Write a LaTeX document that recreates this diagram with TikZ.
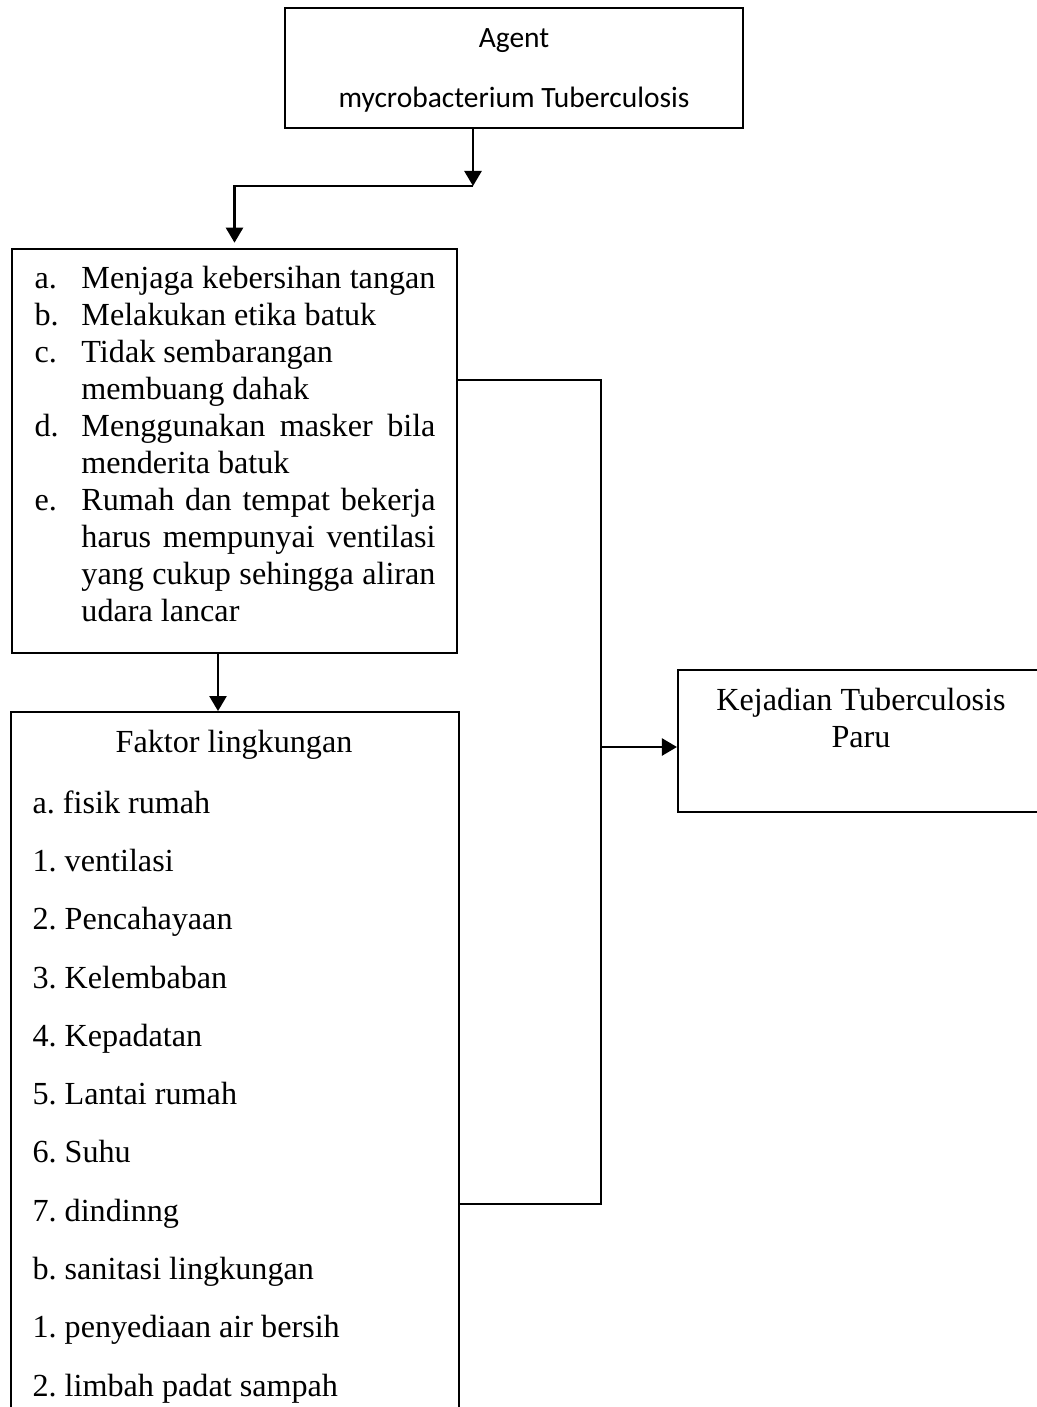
\documentclass[tikz,border=0pt]{standalone}
\usepackage{fontspec}
\setmainfont{Liberation Serif}
\newfontfamily\calibri{Carlito}
\usepackage{tikz}
\usetikzlibrary{arrows.meta, positioning, calc}
\newcommand{\lbl}[1]{\makebox[17.5pt][l]{#1}}
\newcommand{\jst}[1]{\makebox[132.1pt][s]{#1}}
\tikzset{
  box/.style={rectangle, draw=black, line width=0.75pt, inner sep=0pt},
  txt/.style={inner sep=0pt, font=\fontsize{12}{13.8}\selectfont\frenchspacing},
  arrow/.style={-{Triangle[length=5.6pt,width=6.4pt]}, line width=0.75pt},
  line/.style={line width=0.75pt}
}
\begin{document}
\begin{tikzpicture}[x=0.3731pt, y=-0.3731pt]
  \useasboundingbox (0,0) rectangle (1036,1407);

  % Boxes
  \node[box, minimum width=170.9pt, minimum height=44.8pt] (agent) at (514,68) {};
  \node[box, minimum width=166.0pt, minimum height=150.7pt] (pencegahan) at (234.5,451) {};
  \node[box, minimum width=167.2pt, minimum height=275.3pt] (lingkungan) at (235,1081) {};
  \node[box, minimum width=136.6pt, minimum height=53.0pt] (kejadian) at (861,741) {};

  % Texts
  \node[inner sep=0pt, anchor=base, align=center,
    font=\calibri\fontsize{11}{22.4}\selectfont] (agenttxt) at (514,47) {Agent};
  \node[inner sep=0pt, anchor=base,
    font=\calibri\fontsize{11}{22.4}\selectfont] (agentnama) at (514,107) {mycrobacterium Tuberculosis};
  \node[txt, anchor=north west, align=left] (pencegahantxt) at (34,266)
    {\lbl{a.}\jst{Menjaga kebersihan tangan}\\
     \lbl{b.}Melakukan etika batuk\\
     \lbl{c.}Tidak sembarangan\\
     \lbl{}membuang dahak\\
     \lbl{d.}\jst{Menggunakan masker bila}\\
     \lbl{}menderita batuk\\
     \lbl{e.}\jst{Rumah dan tempat bekerja}\\
     \lbl{}\jst{harus mempunyai ventilasi}\\
     \lbl{}\jst{yang cukup sehingga aliran}\\
     \lbl{}udara lancar};
  \node[txt, anchor=base] (lingkungantitle) at (234,752) {Faktor lingkungan};
  \node[txt, anchor=north west, align=left, font=\fontsize{12}{21.75}\selectfont\frenchspacing] (lingkungantxt) at (32,790)
    {a. fisik rumah\\
     1. ventilasi\\
     2. Pencahayaan\\
     3. Kelembaban\\
     4. Kepadatan\\
     5. Lantai rumah\\
     6. Suhu\\
     7. dindinng\\
     b. sanitasi lingkungan\\
     1. penyediaan air bersih\\
     2. limbah padat sampah};
  \node[txt, anchor=north, align=center] (kejadiantxt) at (861,688)
    {Kejadian Tuberculosis\\Paru};

  % Connectors
  \coordinate (cabang) at (473,186);
  \coordinate (turun) at (218,680);
  \coordinate (jalurtop) at (601,380);
  \coordinate (jalurbot) at (601,1204);
  \coordinate (masuk) at (601,747);
  \draw[arrow] (agent.south -| cabang) -- (cabang);
  \draw[arrow, shorten >=2pt] (cabang) -| (pencegahan.north);
  \draw[arrow] (pencegahan.south -| turun) -- (lingkungan.north -| turun);
  \draw[line] (pencegahan.east |- jalurtop) -- (jalurtop) -- (jalurbot) -- (lingkungan.east |- jalurbot);
  \draw[arrow] (masuk) -- (kejadian.west |- masuk);
\end{tikzpicture}
\end{document}
